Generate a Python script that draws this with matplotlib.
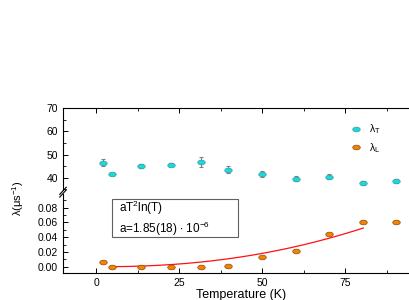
import numpy as np
import matplotlib
matplotlib.use("Agg")
import matplotlib.pyplot as plt
from matplotlib.path import Path
from matplotlib.patches import Rectangle
from matplotlib.transforms import Affine2D
from matplotlib.ticker import MultipleLocator

matplotlib.rcParams.update({
    'font.family': 'Liberation Sans',
    'font.size': 7.5,
    'mathtext.fontset': 'custom',
    'mathtext.rm': 'Liberation Sans',
    'mathtext.it': 'Liberation Sans:italic',
})

# temperatures (K)
temp = [2, 4.7, 13.5, 22.6, 31.5, 39.8, 50, 60.2, 70, 80.4, 90.3, 95.5]
# transverse relaxation rate (upper panel)
lam_t = [46.6, 41.7, 45.1, 45.6, 46.8, 43.5, 41.6, 39.6, 40.4, 37.7, 38.6, 39.2]
lam_t_err = [1.5, 0.6, 0.7, 0.7, 2.0, 1.6, 1.2, 1.0, 1.1, 0.9, 0.9, 0.9]
# longitudinal relaxation rate (lower panel)
lam_l = [0.0069, 0.0000, 0.0000, 0.0000, 0.0000, 0.0015, 0.0135, 0.0216, 0.0450, 0.0600, 0.0600, 0.0740]

# fit a*T^2*ln(T)
a_fit = 1.85e-6
t_fit = np.linspace(4.7, 80.4, 200)
fit = a_fit * t_fit**2 * np.log(t_fit)

# elliptical marker
ell = Path.unit_circle().transformed(Affine2D().scale(1.6, 1.0))
ms = 5.4
cyan_face, cyan_edge = '#1ad8dc', '#3a9a9a'
orange_face, orange_edge = '#f58200', '#8a4a10'

fig = plt.figure(figsize=(4.09, 3.0), dpi=100)
ax_top = fig.add_axes([0.154, 0.367, 0.873, 0.272])
ax_bot = fig.add_axes([0.154, 0.090, 0.873, 0.263])

xlim = (-10, 97.5)

ax_top.errorbar(temp, lam_t, yerr=lam_t_err, fmt='none', ecolor='#808080',
                elinewidth=0.8, capsize=1.6, capthick=0.8, zorder=2)
ax_top.plot(temp, lam_t, linestyle='none', marker=ell, markersize=ms,
            markerfacecolor=cyan_face, markeredgecolor=cyan_edge,
            markeredgewidth=0.5, label=r'$\mathrm{\lambda_T}$', zorder=3)
ax_top.plot([], [], linestyle='none', marker=ell, markersize=ms,
            markerfacecolor=orange_face, markeredgecolor=orange_edge,
            markeredgewidth=0.5, label=r'$\mathrm{\lambda_L}$')
ax_top.set_xlim(*xlim)
ax_top.set_ylim(34.8, 70)
ax_top.yaxis.set_major_locator(MultipleLocator(10))
ax_top.yaxis.set_minor_locator(MultipleLocator(5))
ax_top.xaxis.set_major_locator(MultipleLocator(25))
ax_top.xaxis.set_minor_locator(MultipleLocator(12.5))
ax_top.spines['bottom'].set_visible(False)
ax_top.tick_params(axis='x', which='both', bottom=False, labelbottom=False,
                   top=True, direction='in')
ax_top.tick_params(axis='y', which='both', direction='in', right=False)
ax_top.tick_params(which='major', length=3.5, width=0.7)
ax_top.tick_params(which='minor', length=2, width=0.6)
ax_top.legend(loc='upper left', bbox_to_anchor=(0.795, 0.88), frameon=False,
              handletextpad=0.7, labelspacing=0.45, fontsize=7.5,
              handlelength=1.0, borderaxespad=0)

ax_bot.plot(t_fit, fit, color='#ff1010', linewidth=0.9, zorder=2)
ax_bot.plot(temp, lam_l, linestyle='none', marker=ell, markersize=ms,
            markerfacecolor=orange_face, markeredgecolor=orange_edge,
            markeredgewidth=0.5, zorder=3)
ax_bot.set_xlim(*xlim)
ax_bot.set_ylim(-0.0085, 0.0985)
ax_bot.yaxis.set_major_locator(MultipleLocator(0.02))
ax_bot.yaxis.set_minor_locator(MultipleLocator(0.01))
ax_bot.yaxis.set_major_formatter(matplotlib.ticker.FormatStrFormatter('%.2f'))
ax_bot.xaxis.set_major_locator(MultipleLocator(25))
ax_bot.xaxis.set_minor_locator(MultipleLocator(12.5))
ax_bot.spines['top'].set_visible(False)
ax_bot.tick_params(axis='both', which='both', direction='in', top=False, right=False)
ax_bot.tick_params(which='major', length=3.5, width=0.7)
ax_bot.tick_params(which='minor', length=2, width=0.6)
ax_bot.set_xlabel('Temperature (K)', fontsize=9, labelpad=1)

for a in (ax_top, ax_bot):
    for s in a.spines.values():
        s.set_linewidth(0.8)

# fit annotation box
ax_bot.add_patch(Rectangle((0.137, 0.46), 0.353, 0.475, transform=ax_bot.transAxes,
                           facecolor='white', edgecolor='#606060',
                           linewidth=0.8, zorder=4))
ax_bot.text(0.157, 0.695, 'aT$^2$ln(T)\na=1.85(18) $\\cdot$ 10$^{-6}$',
            transform=ax_bot.transAxes, fontsize=8.5, va='center', ha='left',
            linespacing=1.2, zorder=5)

# break marks on the left spine
fig.lines.append(plt.Line2D([0.146, 0.162], [0.352, 0.376], color='k',
                            linewidth=0.8, transform=fig.transFigure))
fig.lines.append(plt.Line2D([0.146, 0.162], [0.343, 0.367], color='k',
                            linewidth=0.8, transform=fig.transFigure))

fig.text(0.045, 0.34, r'$\mathrm{\lambda(\mu s^{-1})}$', rotation=90,
         fontsize=8, ha='center', va='center')

fig.savefig('out.png', dpi=100)
